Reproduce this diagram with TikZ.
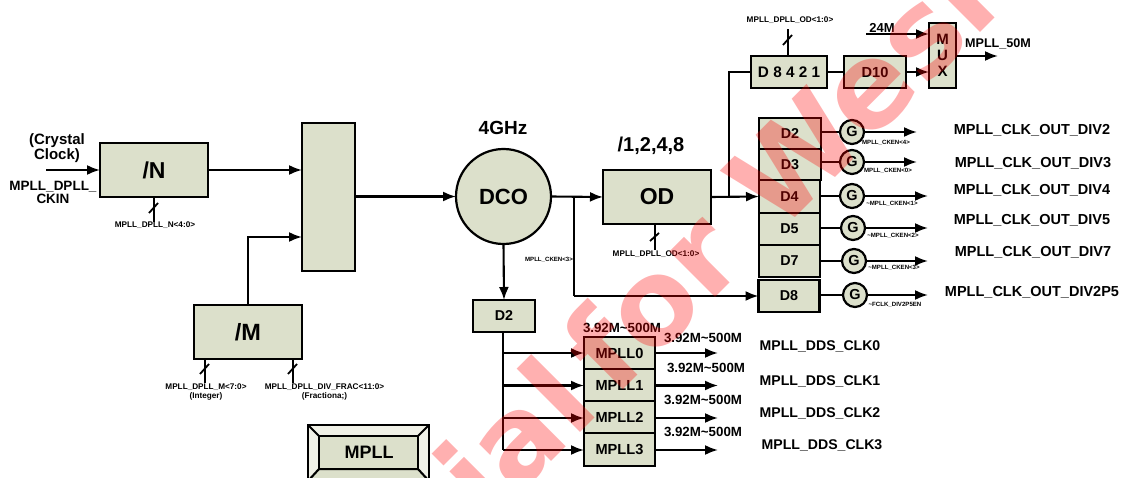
\documentclass[tikz,border=0pt]{standalone}
\usepackage{fontspec}
\setmainfont{Liberation Sans}
\newfontfamily\wmfont{DejaVu Sans}
\usetikzlibrary{arrows.meta}
\definecolor{boxfill}{HTML}{DCE0CB}
\definecolor{bevlight}{HTML}{F0F1E7}
\newcommand{\tld}{\textasciitilde}
\tikzset{
  txt/.style={inner sep=0pt,outer sep=0pt,align=center,font=\fontsize{#1}{#1}\selectfont\bfseries},
  blk/.style n args={3}{draw=black,line width=2.2pt,fill=boxfill,rectangle,minimum width=#1,minimum height=#2,inner sep=0pt,outer sep=0pt,font=\fontsize{#3}{#3}\selectfont\bfseries},
  gate/.style={draw=black,line width=2.2pt,fill=boxfill,circle,minimum size=24pt,inner sep=0pt,outer sep=0pt,font=\fontsize{14.5}{14.5}\selectfont\bfseries},
  wire/.style={draw=black,line width=2.1pt},
  arr/.style={wire,-{Latex[length=13pt,width=10pt]}},
  slashmark/.style={draw=black,line width=1.8pt},
  wmark/.style={inner sep=0pt,outer sep=0pt,text=red,text opacity=0.31,font=\wmfont\fontsize{118}{118}\selectfont\bfseries,rotate=45},
}
\begin{document}
\begin{tikzpicture}[x=1pt,y=-1pt]
\useasboundingbox (0,0) rectangle (1121,478);
\clip (0,0) rectangle (1121,478);
% MPLL bevel
\coordinate (bo1) at (308,425); \coordinate (bo2) at (429,425); \coordinate (bo3) at (429,481); \coordinate (bo4) at (308,481);
\coordinate (bi1) at (319,436); \coordinate (bi2) at (418,436); \coordinate (bi3) at (418,469); \coordinate (bi4) at (319,469);
\filldraw[fill=bevlight,wire] (bo1) -- (bo2) -- (bo3) -- (bo4) -- cycle;
\filldraw[fill=boxfill,wire] (bo4) -- (bo3) -- (bi3) -- (bi4) -- cycle;
\filldraw[fill=boxfill,wire] (bi1) -- (bi2) -- (bi3) -- (bi4) -- cycle;
\draw[wire] (bo1) -- (bi1) (bo2) -- (bi2);
\node[txt=18] (mpllname) at (369,452) {MPLL};
% Main blocks
\node[blk={108pt}{54pt}{23}] (nbox) at (154,170) {/N};
\node[blk={53pt}{148pt}{14}] (mix) at (328.5,197) {};
\node[blk={108pt}{54pt}{23.5}] (mbox) at (248,332) {/M};
\node[circle,draw=black,line width=2.2pt,fill=boxfill,minimum size=95pt,inner sep=0pt,outer sep=0pt,font=\fontsize{22}{22}\selectfont\bfseries] (dco) at (503.5,196.5) {DCO};
\node[blk={108pt}{54pt}{23}] (od) at (657,197) {OD};
\node[blk={76pt}{32pt}{15.3}] (d8421) at (789,72) {D 8 4 2 1};
\node[blk={62pt}{32pt}{14.6}] (d10) at (875,72) {D10};
\node[blk={27pt}{65pt}{15},align=center,font=\fontsize{15}{16}\selectfont\bfseries] (mux) at (942.5,55.5) {M\\U\\X};
% Divider column
\node[blk={62pt}{31pt}{14.3}] (dd2) at (790,133.5) {D2};
\node[blk={62pt}{31pt}{14.3}] (dd3) at (790,164.5) {D3};
\node[blk={61pt}{33pt}{14.3}] (dd4) at (789.5,196.5) {D4};
\node[blk={61pt}{32pt}{14.3}] (dd5) at (789.5,229) {D5};
\node[blk={61pt}{32pt}{14.3}] (dd7) at (789.5,261) {D7};
\node[blk={61pt}{32pt}{14.3}] (dd8) at (789,296) {D8};
\node[gate] (g2) at (852,132) {G};
\node[gate] (g3) at (852,162) {G};
\node[gate] (g4) at (852,196) {G};
\node[gate] (g5) at (853,228) {G};
\node[gate] (g7) at (854,261) {G};
\node[gate] (g8) at (855,295) {G};
% D2 and MPLL outputs
\node[blk={62pt}{32pt}{14.3}] (low) at (504,316) {D2};
\node[blk={71pt}{32pt}{14.6}] (m0) at (619.5,353) {MPLL0};
\node[blk={71pt}{32pt}{14.6}] (m1) at (619.5,385) {MPLL1};
\node[blk={71pt}{32pt}{14.6}] (m2) at (619.5,417) {MPLL2};
\node[blk={71pt}{33pt}{14.6}] (m3) at (619.5,449.5) {MPLL3};
% Free ends
\coordinate (inp) at (46,170);
\coordinate (bendm) at (248,237);
\coordinate (mixin) at (mix.west |- bendm);
\coordinate (mixn) at (mix.west |- nbox);
\coordinate (tapa) at (574,197);
\coordinate (tapb) at (574,296);
\coordinate (tapc) at (729,197);
\coordinate (tapd) at (729,72);
\coordinate (in24) at (866,34);
\coordinate (mux24) at (mux.west |- in24);
\coordinate (out50) at (998,56);
\foreach \nm/\xe in {2/917,3/917,4/928,5/928,7/928,8/928}{
  \coordinate (e\nm) at (\xe,0);
  \draw[wire] (dd\nm.east |- g\nm) -- (g\nm.west);
  \draw[arr] (g\nm.east) -- (e\nm |- g\nm);
}
% Connectors
\draw[arr] (inp) -- (nbox.west);
\draw[arr] (nbox.east) -- (mixn);
\draw[arr] (mbox.north) -- (bendm) -- (mixin);
\draw[arr] (mix.east |- dco) -- (dco.west);
\draw[arr] (dco.east) -- (od.west);
\draw[arr] (od.east) -- (dd4.west);
\draw[wire] (tapa) -- (tapb);
\draw[arr] (tapb) -- (tapb -| dd8.west);
\draw[wire] (tapc) -- (tapd) -- (d8421.west);
\draw[wire] (d8421.east) -- (d10.west);
\draw[arr] (d10.east) -- (d10.east -| mux.west);
\draw[arr] (in24) -- (mux24);
\draw[arr] (mux.east |- out50) -- (out50);
\draw[arr] (dco.south) -- (low.north);
\coordinate (busb) at (503,450);
\draw[wire] (low.south -| busb) -- (busb);
\foreach \n/\yy/\xend in {0/353/718,1/385.5/718,2/418/718,3/450/718}{
  \coordinate (tap\n) at (503,\yy);
  \draw[arr] (tap\n) -- (tap\n -| m\n.west);
  \draw[arr] (tap\n -| m\n.east) -- (\xend,\yy);
}
% Bus ticks
\coordinate (tn) at (154,222); \draw[wire] (nbox.south) -- (tn);
\draw[slashmark] (149,213) -- (158,203);
\coordinate (tm1) at (205,383); \draw[wire] (tm1 |- mbox.south) -- (tm1);
\draw[slashmark] (200,374) -- (209,364);
\coordinate (tm2) at (293,383); \draw[wire] (tm2 |- mbox.south) -- (tm2);
\draw[slashmark] (288,374) -- (297,364);
\coordinate (tod) at (655,250); \draw[wire] (tod |- od.south) -- (tod);
\draw[slashmark] (650,241) -- (659,233);
\coordinate (tdd) at (788,29); \draw[wire] (tdd |- d8421.north) -- (tdd);
\draw[slashmark] (783,45) -- (792,35);
% Labels
\node[txt=15] (l1) at (57,148) {\fontsize{15}{16}\selectfont (Crystal\\Clock)};
\node[txt=13.5] (l2) at (53,192.5) {\fontsize{13.5}{16}\selectfont MPLL\_DPLL\_\\CKIN};
\node[txt=8.2] (l3) at (155,225) {MPLL\_DPLL\_N<4:0>};
\node[txt=8.2] (l4) at (206,392) {\fontsize{8.2}{10}\selectfont MPLL\_DPLL\_M<7:0>\\(Integer)};
\node[txt=8.2] (l5) at (324.5,392) {\fontsize{8.2}{10}\selectfont MPLL\_DPLL\_DIV\_FRAC<11:0>\\(Fractiona;)};
\node[txt=19] (l6) at (503,128) {4GHz};
\node[txt=20] (l7) at (651,146) {/1,2,4,8};
\node[txt=8.2] (l8) at (790,20) {MPLL\_DPLL\_OD<1:0>};
\node[txt=8.2] (l9) at (656,254) {MPLL\_DPLL\_OD<1:0>};
\node[txt=6.1] (l10) at (549,260) {MPLL\_CKEN<3>};
\node[txt=13] (l11) at (882,28) {24M};
\node[txt=12.6] (l12) at (998,44) {MPLL\_50M};
\node[txt=6.1] (c2) at (886,143) {MPLL\_CKEN<4>};
\node[txt=6.1] (c3) at (888,171) {MPLL\_CKEN<0>};
\node[txt=6.1] (c4) at (892,204) {\tld MPLL\_CKEN<1>};
\node[txt=6.1] (c5) at (893,236) {\tld MPLL\_CKEN<2>};
\node[txt=6.1] (c7) at (894,268) {\tld MPLL\_CKEN<3>};
\node[txt=6.1] (c8) at (895,305) {\tld FCLK\_DIV2P5EN};
\node[txt=14.5] (o2) at (1032,130) {MPLL\_CLK\_OUT\_DIV2};
\node[txt=14.5] (o3) at (1033,163) {MPLL\_CLK\_OUT\_DIV3};
\node[txt=14.5] (o4) at (1032,190) {MPLL\_CLK\_OUT\_DIV4};
\node[txt=14.5] (o5) at (1032,220) {MPLL\_CLK\_OUT\_DIV5};
\node[txt=14.5] (o7) at (1033,252) {MPLL\_CLK\_OUT\_DIV7};
\node[txt=14.5] (o8) at (1032,292) {MPLL\_CLK\_OUT\_DIV2P5};
\node[txt=13.3] (f0) at (622,328) {3.92M\tld 500M};
\node[txt=13.3] (f1) at (703,338) {3.92M\tld 500M};
\node[txt=13.3] (f2) at (706,368) {3.92M\tld 500M};
\node[txt=13.3] (f3) at (703,400) {3.92M\tld 500M};
\node[txt=13.3] (f4) at (703,432) {3.92M\tld 500M};
\node[txt=14.1] (q0) at (820,346) {MPLL\_DDS\_CLK0};
\node[txt=14.1] (q1) at (820,381) {MPLL\_DDS\_CLK1};
\node[txt=14.1] (q2) at (820,413) {MPLL\_DDS\_CLK2};
\node[txt=14.1] (q3) at (822,445) {MPLL\_DDS\_CLK3};
% Watermark on top
\node[wmark,anchor=base west] (wma) at (488.1,524.9) {ial};
\node[wmark,anchor=base west] (wmb) at (614.7,398.3) {for Wesi};
\end{tikzpicture}
\end{document}
